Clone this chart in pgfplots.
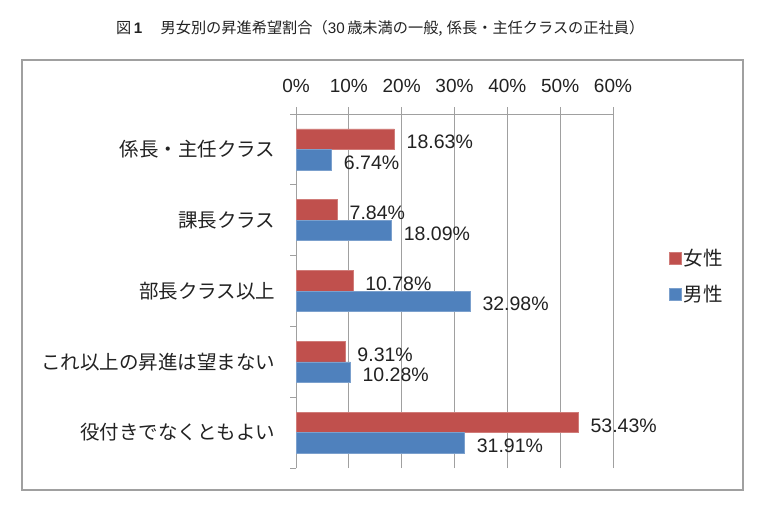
\documentclass[border=0pt]{standalone}
\usepackage{fontspec}
\setmainfont{Liberation Sans}
\newfontfamily\jp{Noto Sans CJK JP}
\usepackage{pgfplots}
\pgfplotsset{compat=1.18}
\definecolor{cred}{HTML}{C0504D}
\definecolor{cblue}{HTML}{4F81BD}
\definecolor{cgrid}{HTML}{A0A0A0}
\definecolor{ctext}{HTML}{222222}
\begin{document}
\begin{tikzpicture}
\useasboundingbox (0pt,0pt) rectangle (775pt,517pt);
\fill[white] (0pt,0pt) rectangle (775pt,517pt);
\draw[cgrid, line width=1.5pt] (22pt,27pt) rectangle (743pt,457pt);
\node[anchor=west, inner sep=0pt, text=ctext, font=\jp\fontsize{15.2}{15.2}\selectfont] at (116pt,489pt)
  {図\,{\fontspec{Liberation Sans}\bfseries 1}\hspace{1.2em}男女別の昇進希望割合（{\fontspec{Liberation Sans}30}\,歳未満の一般,\;係長・主任クラスの正社員）};
\begin{axis}[
  at={(296pt,49pt)}, anchor=south west,
  scale only axis, width=317pt, height=354pt,
  xbar, bar width=20.5pt,
  xmin=0, xmax=60, ymin=0.5, ymax=5.5,
  axis x line*=top, axis y line*=left,
  axis line style={-, draw=cgrid, line width=1pt},
  xtick={0,10,20,30,40,50,60},
  xticklabels={0\%,10\%,20\%,30\%,40\%,50\%,60\%},
  xticklabel style={font=\fontsize{19}{19}\selectfont, text=ctext, yshift=11pt},
  ytick={1,2,3,4,5},
  yticklabels={役付きでなくともよい,これ以上の昇進は望まない,部長クラス以上,課長クラス,係長・主任クラス},
  yticklabel style={font=\jp\fontsize{19.5}{19.5}\selectfont, text=ctext, xshift=-10pt},
  minor ytick={0.5,1.5,2.5,3.5,4.5,5.5},
  tick align=outside,
  major tick length=7pt, minor tick length=6pt,
  y tick style={draw=none}, minor y tick style={draw=cgrid, line width=1pt},
  x tick style={draw=cgrid, line width=1pt},
  xmajorgrids, major grid style={draw=cgrid, line width=1pt},
  point meta=x,
  nodes near coords={\pgfmathprintnumber[fixed,fixed zerofill,precision=2,assume math mode=true]{\pgfplotspointmeta}\%},
  every node near coord/.append style={anchor=west, inner sep=0pt, xshift=12pt, yshift=-3pt, text=ctext, font=\fontsize{19.5}{19.5}\selectfont},
  legend style={at={(1.167,0.542)}, anchor=west, draw=none, fill=none, font=\jp\fontsize{19.5}{19.5}\selectfont, text=ctext, row sep=14pt},
  legend cell align=left,
  legend image code/.code={\fill[#1] (0pt,-6pt) rectangle (12pt,6pt);},
]
\addplot[fill=cred, draw=cred!75!white, line width=0.6pt, bar shift=10.25pt] coordinates {(18.63,5) (7.84,4) (10.78,3) (9.31,2) (53.43,1)};
\addlegendentry{女性}
\addplot[fill=cblue, draw=cblue!75!white, line width=0.6pt, bar shift=-10.25pt] coordinates {(6.74,5) (18.09,4) (32.98,3) (10.28,2) (31.91,1)};
\addlegendentry{男性}
\end{axis}
\end{tikzpicture}
\end{document}
